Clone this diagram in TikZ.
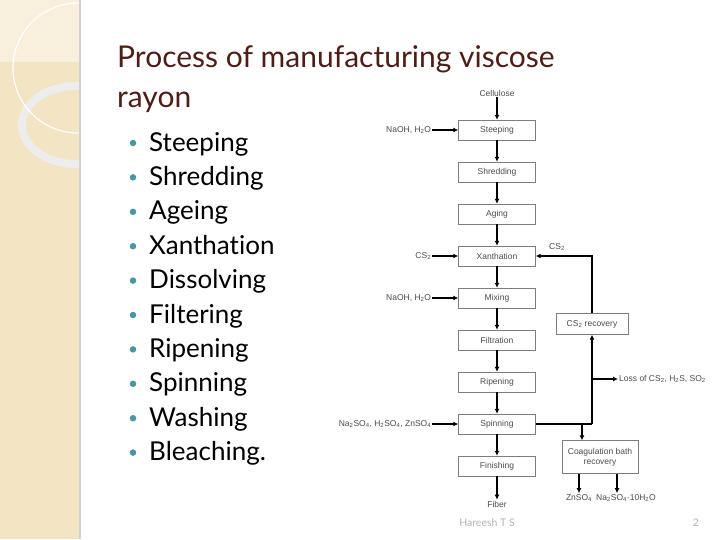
\documentclass[tikz,border=0pt]{standalone}
\usepackage{fontspec}
\setmainfont{Lato}[Ligatures={NoCommon,NoRare}]
\newfontfamily\chartfont{Liberation Sans}
\usetikzlibrary{positioning,arrows.meta}
\definecolor{sidebar}{RGB}{243,228,196}
\definecolor{sidetop}{RGB}{248,239,221}
\definecolor{titlebrown}{RGB}{78,30,22}
\definecolor{bullteal}{RGB}{72,150,162}
\definecolor{boxgray}{RGB}{125,125,125}
\definecolor{chartgray}{RGB}{75,75,75}
\begin{document}
\begin{tikzpicture}[x=1pt, y=-1pt, >={Latex[length=5pt,width=5pt]}, node distance=42pt,
  proc/.style={draw=boxgray, minimum width=77pt, minimum height=20pt, inner sep=1pt, align=center, font=\chartfont\fontsize{8.5}{10}\selectfont, text=chartgray},
  lbl/.style={inner sep=1pt, font=\chartfont\fontsize{8.5}{10}\selectfont, text=chartgray},
  flow/.style={->, line width=1.6pt},
  item/.style={anchor=base west, inner sep=0pt, font=\fontsize{26}{26}\selectfont},
  dot/.style={circle, fill=bullteal, inner sep=0pt, minimum size=6.5pt}]
\useasboundingbox (0,0) rectangle (720,539);
% side strip
\fill[sidebar] (0,0) rectangle (80,539);
\fill[sidetop] (0,0) rectangle (80,62);
\begin{scope}
\clip (0,0) rectangle (80,539);
\draw[white!86!gray, line width=8pt] (76,125) ellipse [x radius=54, y radius=39];
\draw[white, line width=1.2pt] (78,68) circle [radius=65];
\end{scope}
\draw[black!18, line width=1.2pt] (80,0) -- (80,539);

% title
\node[anchor=base west, inner sep=0pt, text=titlebrown, font=\fontsize{30}{30}\selectfont] (title) at (117,67) {Process of manufacturing viscose};
\node[anchor=base west, inner sep=0pt, text=titlebrown, font=\fontsize{30}{30}\selectfont] (title2) at (117,107) {rayon};

% steps list
\foreach \txt [count=\i from 0] in {Steeping,Shredding,Ageing,Xanthation,Dissolving,Filtering,Ripening,Spinning,Washing,Bleaching.}{
  \node[dot] (d\i) at (133,143+34.4*\i) {};
  \node[item] (s\i) at (149,151+34.4*\i) {\txt};
}

% flow chart
\node[lbl] (cellulose) at (497,93) {Cellulose};
\node[proc] (steep) at (497,130) {Steeping};
\node[proc, below of=steep] (shred) {Shredding};
\node[proc, below of=shred] (aging) {Aging};
\node[proc, below of=aging] (xanth) {Xanthation};
\node[proc, below of=xanth] (mix) {Mixing};
\node[proc, below of=mix] (filt) {Filtration};
\node[proc, below of=filt] (ripe) {Ripening};
\node[proc, below of=ripe] (spin) {Spinning};
\node[proc, below of=spin] (finish) {Finishing};
\node[lbl] (fiber) at (497,504) {Fiber};

\node[lbl, left=26pt of steep] (naoh1) {NaOH, H\textsubscript{2}O};
\node[lbl, left=26pt of xanth] (cs2in) {CS\textsubscript{2}};
\node[lbl, left=26pt of mix] (naoh2) {NaOH, H\textsubscript{2}O};
\node[lbl, left=26pt of spin] (bath) {Na\textsubscript{2}SO\textsubscript{4}, H\textsubscript{2}SO\textsubscript{4}, ZnSO\textsubscript{4}};

\node[proc, minimum width=72pt, minimum height=21pt] (csrec) at (592,324) {CS\textsubscript{2} recovery};
\node[proc, minimum width=76pt, minimum height=33pt] (coag) at (600,457) {Coagulation bath\\recovery};
\node[lbl] (csret) at (557,247) {CS\textsubscript{2}};
\node[lbl, anchor=west] (loss) at (618,379) {Loss of CS\textsubscript{2}, H\textsubscript{2}S, SO\textsubscript{2}};
\node[lbl] (znso) at (579,498) {ZnSO\textsubscript{4}};
\node[lbl] (nasalt) at (626,498) {Na\textsubscript{2}SO\textsubscript{4}·10H\textsubscript{2}O};
\coordinate (lossjn) at (592,379);
\coordinate (coagin) at (582,425);

\draw[flow] (cellulose) -- (steep);
\draw[flow] (steep) -- (shred);
\draw[flow] (shred) -- (aging);
\draw[flow] (aging) -- (xanth);
\draw[flow] (xanth) -- (mix);
\draw[flow] (mix) -- (filt);
\draw[flow] (filt) -- (ripe);
\draw[flow] (ripe) -- (spin);
\draw[flow] (spin) -- (finish);
\draw[flow] (finish) -- (fiber);
\draw[flow] (naoh1) -- (steep);
\draw[flow] (cs2in) -- (xanth);
\draw[flow] (naoh2) -- (mix);
\draw[flow] (bath) -- (spin);

\draw[line width=2.4pt] (spin.east) -- (spin.east -| csrec.south);
\draw[flow] (spin.east -| csrec.south) -- (csrec.south);
\draw[flow] (csrec.north) |- (xanth.east);
\draw[flow, line width=1.4pt] (lossjn) -- (loss.west);
\draw[flow, line width=1.4pt] (coagin) -- (coagin |- coag.north);
\draw[flow, line width=1.4pt] (znso.north |- coag.south) -- (znso.north);
\draw[flow, line width=1.4pt] ([xshift=-9pt]nasalt.north |- coag.south) -- ([xshift=-9pt]nasalt.north);

% footer
\node[text=black!30, font=\fontsize{10.5}{10.5}\selectfont] (author) at (487,523) {Hareesh T S};
\node[text=black!30, font=\fontsize{10.5}{10.5}\selectfont] (pageno) at (696,523) {2};
\end{tikzpicture}
\end{document}
